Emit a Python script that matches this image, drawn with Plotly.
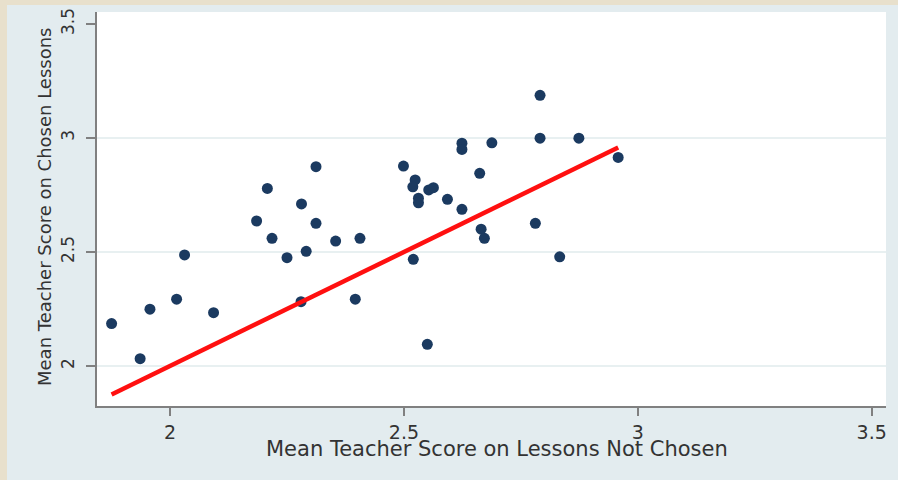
import plotly.graph_objects as go

# Mean teacher score per teacher: lessons not chosen (x) vs chosen (y)
score_not_chosen = [
    1.875, 1.936, 1.957, 2.014, 2.031, 2.093, 2.185, 2.208, 2.218, 2.250,
    2.281, 2.280, 2.291, 2.312, 2.312, 2.354, 2.396, 2.406, 2.499, 2.524,
    2.519, 2.553, 2.563, 2.531, 2.531, 2.593, 2.624, 2.624, 2.624, 2.688,
    2.662, 2.665, 2.672, 2.520, 2.550, 2.791, 2.791, 2.874, 2.958, 2.781,
    2.833,
]
score_chosen = [
    2.186, 2.032, 2.249, 2.293, 2.487, 2.234, 2.636, 2.779, 2.560, 2.475,
    2.711, 2.282, 2.503, 2.874, 2.626, 2.548, 2.293, 2.560, 2.877, 2.816,
    2.786, 2.772, 2.782, 2.736, 2.716, 2.731, 2.687, 2.977, 2.950, 2.979,
    2.845, 2.600, 2.560, 2.468, 2.095, 3.187, 2.999, 2.999, 2.915, 2.626,
    2.479,
]

tick_vals = [2, 2.5, 3, 3.5]
tick_text = ["2", "2.5", "3", "3.5"]
grid_vals = [2, 2.5, 3]

x_title = "Mean Teacher Score on Lessons Not Chosen"
y_title = "Mean Teacher Score on Chosen Lessons"

# 45-degree reference line across the observed range
line_x = [min(score_not_chosen), max(score_not_chosen)]
line_y = list(line_x)

BEIGE = "#e8e0cc"
PANEL = "#e3ecef"
AXIS = "#808080"
TEXT = "#333333"
FONT = "DejaVu Sans"

fig = go.Figure()
fig.add_trace(go.Scatter(
    x=score_not_chosen, y=score_chosen, mode="markers",
    marker=dict(size=11, color="#1b3a60", line=dict(width=0)),
    showlegend=False,
))
fig.add_trace(go.Scatter(
    x=line_x, y=line_y, mode="lines",
    line=dict(color="#ff1010", width=4.5),
    showlegend=False,
))

W, H = 898, 480
L, R, T, B = 97, 12, 12, 74
pw, ph = W - L - R, H - T - B


def px_x(p):
    return (p - L) / pw


def px_y(p):
    return (H - B - p) / ph


fig.update_layout(
    width=W, height=H,
    margin=dict(l=L, r=R, t=T, b=B, autoexpand=False),
    paper_bgcolor=PANEL,
    plot_bgcolor="white",
    font=dict(family=FONT, color=TEXT),
    xaxis=dict(
        range=[1.8438, 3.5306], tickvals=tick_vals, ticktext=tick_text,
        showgrid=False, zeroline=False,
        showline=True, linecolor=AXIS, linewidth=2,
        ticks="outside", ticklen=8, tickwidth=1.5, tickcolor=AXIS,
        tickfont=dict(size=19, family=FONT, color=TEXT),
        ticklabelstandoff=0,
    ),
    yaxis=dict(
        range=[1.8246, 3.5526], tickvals=tick_vals, ticktext=tick_text,
        tickangle=-90,
        showgrid=False, zeroline=False,
        showline=True, linecolor=AXIS, linewidth=2,
        ticks="outside", ticklen=9, tickwidth=1.5, tickcolor=AXIS,
        tickfont=dict(size=17, family=FONT, color=TEXT),
        ticklabelstandoff=5,
        minor=dict(tickvals=grid_vals, showgrid=True, gridcolor="#e8f0f1",
                   gridwidth=2, ticks=""),
    ),
    shapes=[
        # beige frame on the left and top edges of the page
        dict(type="rect", xref="paper", yref="paper", layer="above",
             x0=px_x(0), x1=px_x(7), y0=px_y(H), y1=px_y(0),
             fillcolor=BEIGE, line=dict(width=0)),
        dict(type="rect", xref="paper", yref="paper", layer="above",
             x0=px_x(0), x1=px_x(W), y0=px_y(5), y1=px_y(0),
             fillcolor=BEIGE, line=dict(width=0)),
    ],
    annotations=[
        dict(text=x_title, xref="paper", yref="paper",
             x=px_x(497), y=px_y(449), xanchor="center", yanchor="middle",
             showarrow=False, font=dict(size=21, family=FONT, color=TEXT)),
        dict(text=y_title, xref="paper", yref="paper", textangle=-90,
             x=px_x(44), y=px_y(207), xanchor="center", yanchor="middle",
             showarrow=False, font=dict(size=18, family=FONT, color=TEXT)),
    ],
)

fig.write_html("out.html")
